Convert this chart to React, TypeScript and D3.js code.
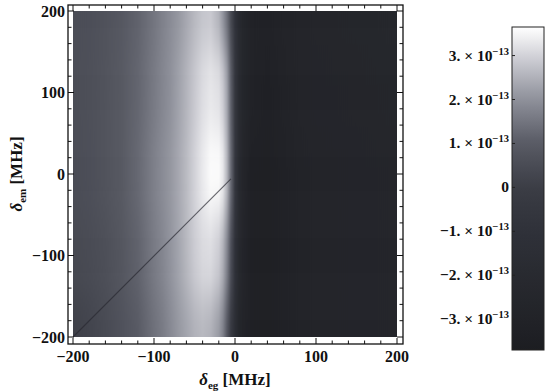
import React, { useEffect, useRef } from "react";
import * as d3 from "d3";

// field values in units of 1e-13
const xGrid = [-200, -180, -160, -140, -120, -100, -90, -80, -70, -60, -50, -40, -30, -20, -15, -10, -5, 0, 5, 10, 20, 40, 60, 80, 100, 150, 200];
const yRows = [200, 100, 0, -100, -200];
const rowTop = [0.55, 0.6, 0.72, 0.9, 1.15, 1.5, 1.7, 1.9, 2.1, 2.35, 2.6, 2.8, 2.85, 2.5, 2.05, 1.4, 0.4, -0.9, -2.0, -2.6, -3.1, -3.2, -3.0, -2.85, -2.75, -2.6, -2.5];
const rowUpper = [0.55, 0.62, 0.75, 0.95, 1.2, 1.6, 1.8, 2.0, 2.25, 2.55, 2.85, 3.15, 3.3, 3.2, 2.9, 2.3, 1.1, -0.6, -1.9, -2.6, -3.15, -3.3, -3.1, -2.9, -2.8, -2.7, -2.6];
const rowMid = [0.5, 0.6, 0.75, 0.95, 1.25, 1.7, 1.9, 2.1, 2.35, 2.65, 3.0, 3.35, 3.6, 3.6, 3.35, 2.6, 1.3, -0.6, -2.0, -2.7, -3.3, -3.4, -3.2, -3.0, -2.9, -2.8, -2.7];
const rowLower = [0.4, 0.48, 0.62, 0.85, 1.15, 1.6, 1.8, 2.05, 2.3, 2.6, 2.9, 3.1, 3.15, 2.9, 2.5, 1.8, 0.6, -1.0, -2.2, -2.8, -3.3, -3.4, -3.2, -3.0, -2.9, -2.8, -2.7];
const rowBottom = [0.1, 0.25, 0.45, 0.7, 1.0, 1.4, 1.6, 1.85, 2.1, 2.3, 2.5, 2.6, 2.5, 2.15, 1.7, 0.9, -0.3, -1.6, -2.6, -3.0, -3.3, -3.4, -3.2, -3.0, -2.9, -2.8, -2.7];
const rows = [rowTop, rowUpper, rowMid, rowLower, rowBottom];

// thin dark resonance line (delta_eg = delta_em)
const linePts: [number, number][] = [[-200, -200], [-5, -6]];

const axisTicks = [-200, -100, 0, 100, 200];
const cbTicks = [3, 2, 1, 0, -1, -2, -3];
const cbRange = [-3.7, 3.65];

const W = 553, H = 392;
const FONT = "'Liberation Serif', 'DejaVu Serif', serif";

export default function App() {
  const ref = useRef<SVGSVGElement>(null);

  useEffect(() => {
    const svg = d3.select(ref.current);
    svg.selectAll("*").remove();

    const x = d3.scaleLinear().domain([-200, 200]).range([73, 397]);
    const y = d3.scaleLinear().domain([-200, 200]).range([337, 11]);
    const color = d3.scaleLinear<string>()
      .domain([-3.7, -3, -2, -1, 0, 1, 2, 3, 3.65])
      .range(["#1c1d21", "#222328", "#282a30", "#2f3139", "#3b3d45", "#585a64", "#8e909a", "#d2d2d8", "#ffffff"])
      .clamp(true);

    const defs = svg.append("defs");
    defs.append("clipPath").attr("id", "plotclip")
      .append("rect")
      .attr("x", x(-200)).attr("y", y(200))
      .attr("width", x(200) - x(-200)).attr("height", y(-200) - y(200));

    const blur = defs.append("filter").attr("id", "vblur")
      .attr("filterUnits", "userSpaceOnUse")
      .attr("x", 0).attr("y", -300).attr("width", W).attr("height", H + 600)
      .attr("color-interpolation-filters", "sRGB");
    blur.append("feGaussianBlur").attr("stdDeviation", "0.6 22");

    rows.forEach((vals, i) => {
      const g = defs.append("linearGradient").attr("id", "row" + i)
        .attr("gradientUnits", "userSpaceOnUse")
        .attr("x1", x(-200)).attr("x2", x(200)).attr("y1", 0).attr("y2", 0);
      vals.forEach((v, j) => {
        g.append("stop")
          .attr("offset", (xGrid[j] + 200) / 400)
          .attr("stop-color", color(v));
      });
    });

    const heat = svg.append("g").attr("clip-path", "url(#plotclip)")
      .append("g").attr("filter", "url(#vblur)");
    yRows.forEach((yv, i) => {
      const top = i === 0 ? yv + 200 : yv + 50;
      const bot = i === yRows.length - 1 ? yv - 200 : yv - 50;
      heat.append("rect")
        .attr("x", x(-200) - 10).attr("width", x(200) - x(-200) + 20)
        .attr("y", y(top)).attr("height", y(bot) - y(top))
        .attr("fill", `url(#row${i})`);
    });

    svg.append("path")
      .attr("d", d3.line().x(d => x(d[0])).y(d => y(d[1]))(linePts))
      .attr("fill", "none")
      .attr("stroke", "#2a2a32")
      .attr("stroke-width", 1.1)
      .attr("opacity", 0.7);

    // frame
    const fx0 = 68, fx1 = 403, fy0 = 5, fy1 = 344;
    svg.append("rect")
      .attr("x", fx0).attr("y", fy0).attr("width", fx1 - fx0).attr("height", fy1 - fy0)
      .attr("fill", "none").attr("stroke", "#111").attr("stroke-width", 1.3);

    const minor = d3.range(-200, 201, 20);
    const tk = svg.append("g").attr("stroke", "#111").attr("stroke-width", 1);
    minor.forEach(v => {
      const len = v % 100 === 0 ? 6 : 3.5;
      tk.append("line").attr("x1", x(v)).attr("x2", x(v)).attr("y1", fy1).attr("y2", fy1 - len);
      tk.append("line").attr("x1", x(v)).attr("x2", x(v)).attr("y1", fy0).attr("y2", fy0 + len);
      tk.append("line").attr("y1", y(v)).attr("y2", y(v)).attr("x1", fx0).attr("x2", fx0 + len);
      tk.append("line").attr("y1", y(v)).attr("y2", y(v)).attr("x1", fx1).attr("x2", fx1 - len);
    });

    const fmt = (v: number) => (v < 0 ? "\u2212" + Math.abs(v) : String(v));
    const lab = svg.append("g").attr("font-family", FONT).attr("font-weight", "bold")
      .attr("font-size", 16).attr("fill", "#111");
    axisTicks.forEach(v => {
      lab.append("text").attr("x", x(v)).attr("y", 362).attr("text-anchor", "middle").text(fmt(v));
      lab.append("text").attr("x", 65).attr("y", y(v) + 5.5).attr("text-anchor", "end").text(fmt(v));
    });

    // axis titles
    const xt = lab.append("text").attr("x", x(0)).attr("y", 385).attr("text-anchor", "middle").attr("font-size", 17);
    xt.append("tspan").attr("font-style", "italic").text("\u03b4");
    xt.append("tspan").attr("font-size", 11).attr("dy", 4).text("eg");
    xt.append("tspan").attr("dy", -4).text(" [MHz]");

    const yt = lab.append("text").attr("transform", `translate(22,${y(0)}) rotate(-90)`)
      .attr("text-anchor", "middle").attr("font-size", 17);
    yt.append("tspan").attr("font-style", "italic").text("\u03b4");
    yt.append("tspan").attr("font-size", 11).attr("dy", 4).text("em");
    yt.append("tspan").attr("dy", -4).text(" [MHz]");

    // colour bar
    const cb = d3.scaleLinear().domain(cbRange).range([350, 27]);
    const cbx0 = 512, cbx1 = 544;
    const cg = defs.append("linearGradient").attr("id", "cbgrad")
      .attr("x1", 0).attr("x2", 0).attr("y1", 1).attr("y2", 0);
    d3.range(0, 1.0001, 0.05).forEach(t => {
      const v = cbRange[0] + t * (cbRange[1] - cbRange[0]);
      cg.append("stop").attr("offset", t).attr("stop-color", color(v));
    });
    svg.append("rect")
      .attr("x", cbx0).attr("y", cb(cbRange[1]))
      .attr("width", cbx1 - cbx0).attr("height", cb(cbRange[0]) - cb(cbRange[1]))
      .attr("fill", "url(#cbgrad)").attr("stroke", "#222").attr("stroke-width", 1);

    const cbl = svg.append("g").attr("font-family", FONT).attr("font-weight", "bold")
      .attr("font-size", 15.5).attr("fill", "#111");
    cbTicks.forEach(v => {
      svg.append("line").attr("x1", cbx0).attr("x2", cbx0 + 3)
        .attr("y1", cb(v)).attr("y2", cb(v)).attr("stroke", "#222");
      const t = cbl.append("text").attr("x", 509).attr("y", cb(v) + 5).attr("text-anchor", "end");
      if (v === 0) {
        t.text("0");
      } else {
        t.append("tspan").text(fmt(v) + ". \u00d7 10");
        t.append("tspan").attr("font-size", 10.5).attr("dy", -6).text("\u221213");
      }
    });
  }, []);

  return (
    <div style={{ position: "absolute", left: 0, top: 0 }}>
      <svg ref={ref} width={W} height={H} style={{ display: "block", background: "#fff" }} />
    </div>
  );
}
